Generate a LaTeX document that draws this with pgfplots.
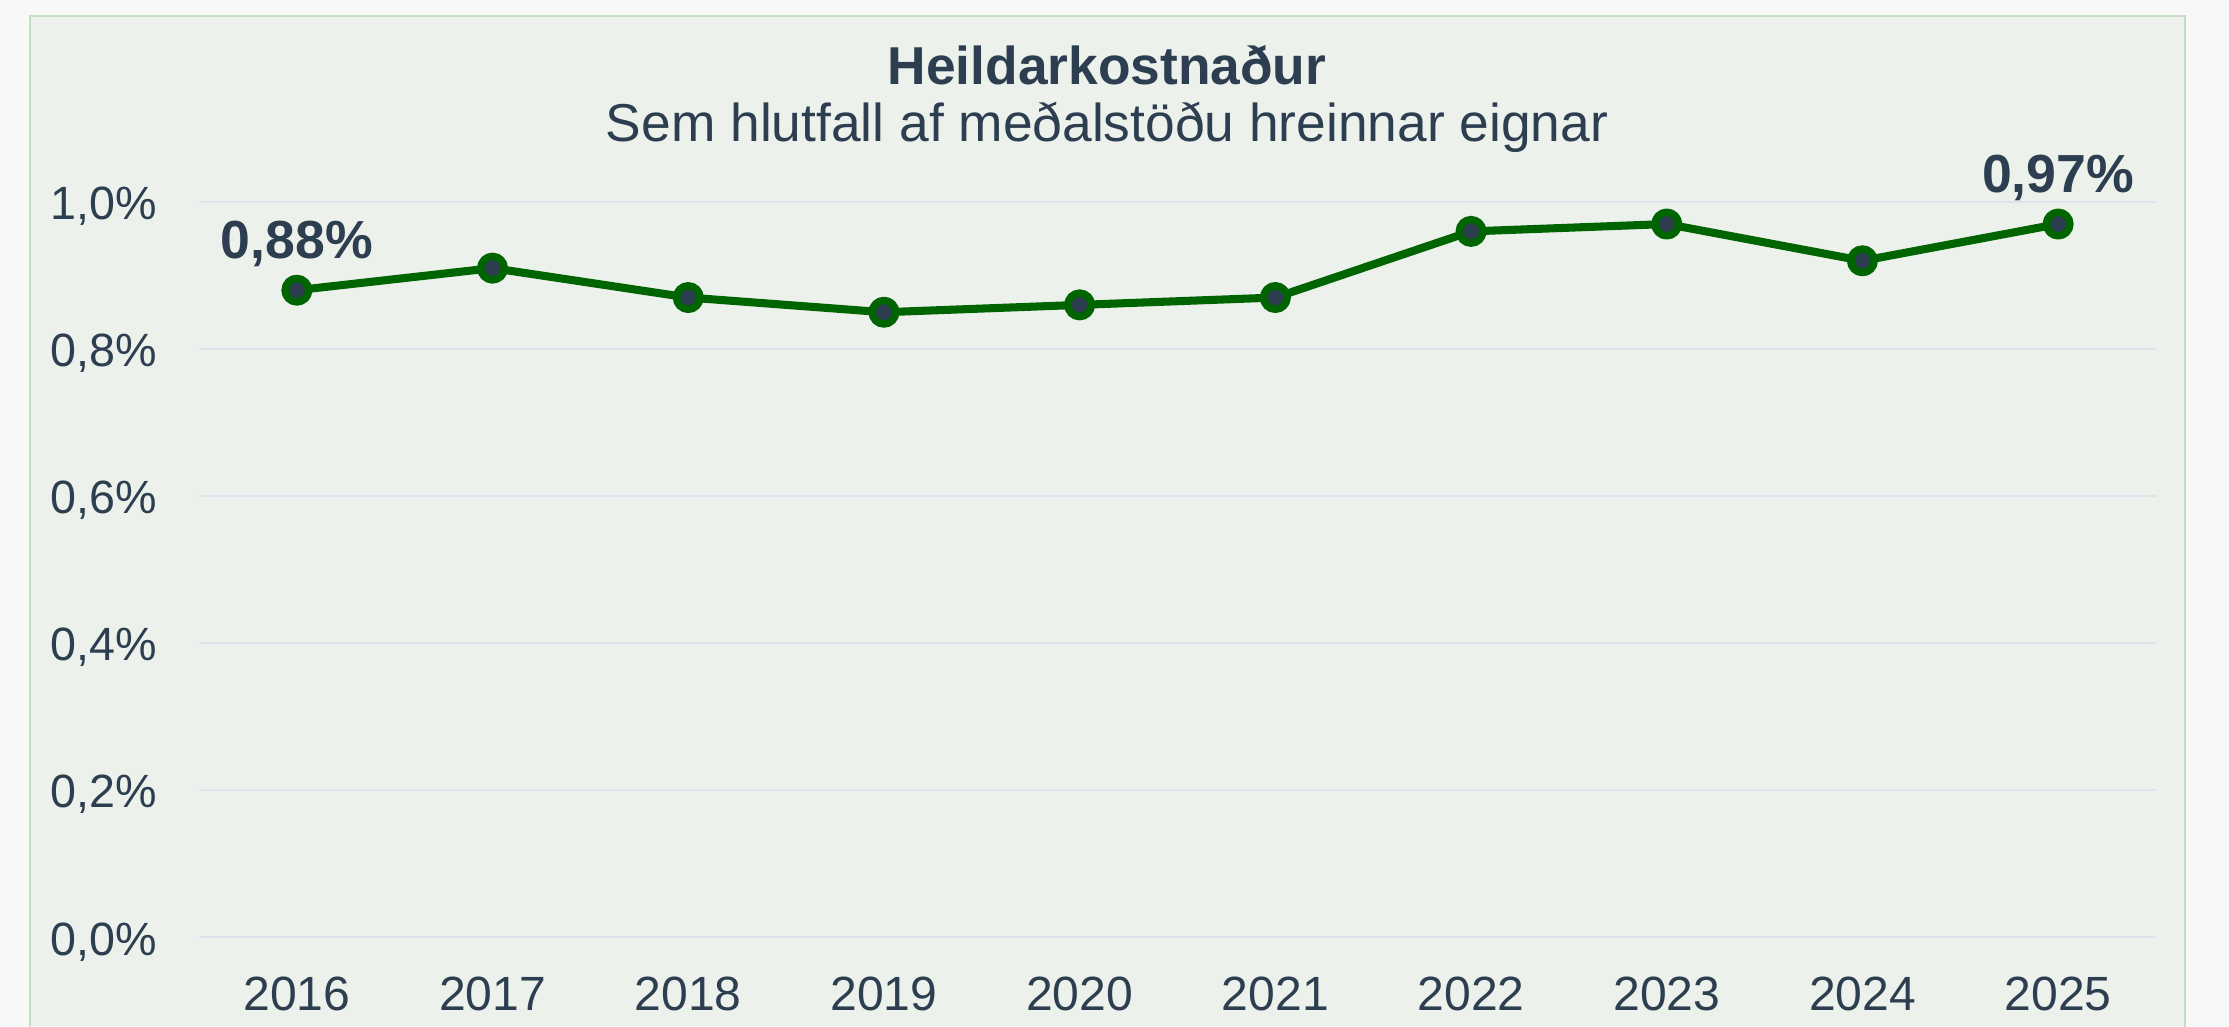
\documentclass[border=0pt]{standalone}
\usepackage{pgfplots}
\pgfplotsset{compat=1.18}
\usepackage{fontspec}
\setmainfont{Liberation Sans}
\definecolor{txt}{HTML}{2C3E50}
\definecolor{outerbg}{HTML}{F8F8F8}
\definecolor{panel}{HTML}{ECF1EB}
\definecolor{panelborder}{HTML}{C5DDC3}
\definecolor{gridc}{HTML}{DCE5EE}
\definecolor{lgreen}{HTML}{006400}
\begin{document}
\begin{tikzpicture}
\begin{scope}[x=0.36pt,y=-0.36pt,shift={(-199,-937)}]
\path[use as bounding box, fill=outerbg] (0,0) rectangle (2229,1026);
\fill[panel] (30,16) rectangle (2185,1026);
\draw[panelborder, line width=0.8pt] (30,1030) -- (30,16) -- (2185,16) -- (2185,1030);
\node[font=\fontsize{19.2pt}{23pt}\selectfont\bfseries, text=txt, anchor=base, inner sep=0pt] at (1107,85) {Heildarkostnaður};
\node[font=\fontsize{19.2pt}{23pt}\selectfont, text=txt, anchor=base, inner sep=0pt] at (1107,142) {Sem hlutfall af meðalstöðu hreinnar eignar};
\end{scope}
\begin{axis}[
  at={(0,0)}, anchor=south west,
  scale only axis, width=704.52pt, height=264.6pt,
  xmin=-0.5, xmax=9.5, ymin=0, ymax=1.0,
  axis line style={draw=none},
  major tick length=0pt,
  ymajorgrids, grid style={gridc, line width=0.8pt},
  xtick={0,1,2,3,4,5,6,7,8,9},
  xticklabels={2016,2017,2018,2019,2020,2021,2022,2023,2024,2025},
  ytick={0,0.2,0.4,0.6,0.8,1.0},
  yticklabel={\pgfmathprintnumber[fixed,fixed zerofill,precision=1,use comma,assume math mode=true]{\tick}\%},
  yticklabel style={anchor=base east, inner sep=0pt, xshift=-14.8pt, yshift=-6.48pt, text=txt, font=\fontsize{16.8pt}{20pt}\selectfont},
  xticklabel style={anchor=base, inner sep=0pt, yshift=-26.28pt, text=txt, font=\fontsize{17.3pt}{20pt}\selectfont},
  clip=false,
]
\addplot[lgreen, line width=2.9pt, line join=round, mark=*, mark size=4.23pt, mark options={fill=txt, draw=lgreen, line width=2.7pt}]
  coordinates {(0,0.88)(1,0.91)(2,0.87)(3,0.85)(4,0.86)(5,0.87)(6,0.96)(7,0.97)(8,0.92)(9,0.97)};
\addplot[draw=none, mark=none,
  nodes near coords={\pgfmathprintnumber[fixed,fixed zerofill,precision=2,use comma,assume math mode=true]{\pgfplotspointmeta}\%},
  nodes near coords align={anchor=base},
  every node near coord/.style={anchor=base, inner sep=0pt, yshift=11.5pt, text=txt, font=\fontsize{19.3pt}{23pt}\selectfont\bfseries},
  point meta=y]
  coordinates {(0,0.88)(9,0.97)};
\end{axis}
\end{tikzpicture}
\end{document}
